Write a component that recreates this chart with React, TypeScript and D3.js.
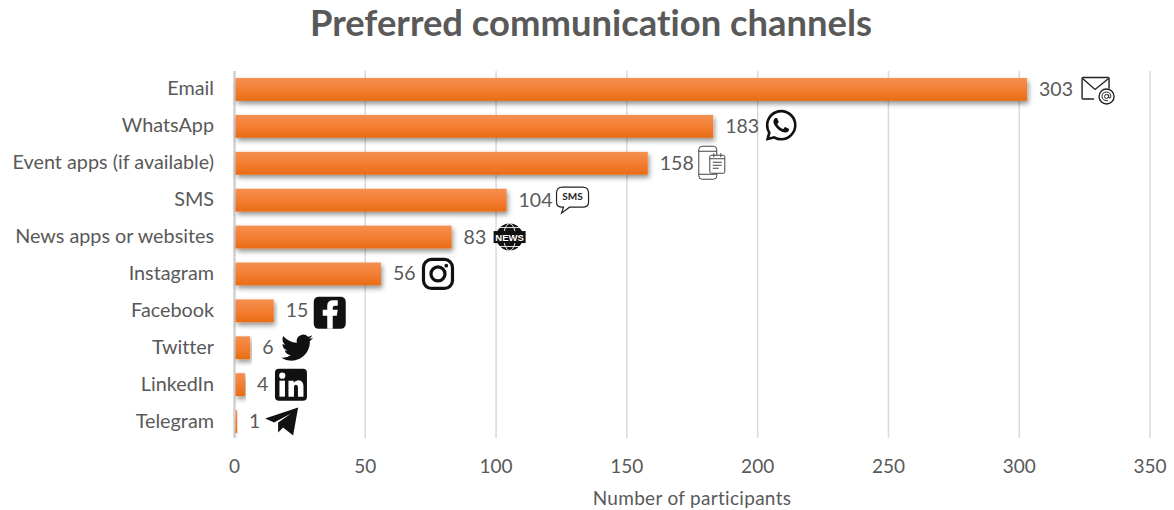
import React from "react";
import * as d3 from "d3";

const categories = ["Email", "WhatsApp", "Event apps (if available)", "SMS", "News apps or websites", "Instagram", "Facebook", "Twitter", "LinkedIn", "Telegram"];
const participants = [303, 183, 158, 104, 83, 56, 15, 6, 4, 1];
const xTicks = [0, 50, 100, 150, 200, 250, 300, 350];
const chartTitle = "Preferred communication channels";
const xAxisTitle = "Number of participants";

const WIDTH = 1174;
const HEIGHT = 510;
const TEXT = "#595959";
const FONT = "Lato, 'Open Sans', sans-serif";

const x = d3.scaleLinear().domain([0, 350]).range([234.5, 1150]);
const y = d3.scaleBand<string>().domain(categories).range([71, 440]).paddingInner(0.38).paddingOuter(0.19);

const TWITTER = "M23.953 4.57a10 10 0 01-2.825.775 4.958 4.958 0 002.163-2.723c-.951.555-2.005.959-3.127 1.184a4.92 4.92 0 00-8.384 4.482C7.69 8.095 4.067 6.13 1.64 3.162a4.822 4.822 0 00-.666 2.475c0 1.71.87 3.213 2.188 4.096a4.904 4.904 0 01-2.228-.616v.06a4.923 4.923 0 003.946 4.827 4.996 4.996 0 01-2.212.085 4.936 4.936 0 004.604 3.417 9.867 9.867 0 01-6.102 2.105c-.39 0-.779-.023-1.17-.067a13.995 13.995 0 007.557 2.209c9.053 0 13.998-7.496 13.998-13.985 0-.21 0-.42-.015-.63A9.935 9.935 0 0024 4.59z";
const WHATSAPP = "M17.472 14.382c-.297-.149-1.758-.867-2.03-.967-.273-.099-.471-.148-.67.15-.197.297-.767.966-.94 1.164-.173.199-.347.223-.644.075-.297-.15-1.255-.463-2.39-1.475-.883-.788-1.48-1.761-1.653-2.059-.173-.297-.018-.458.13-.606.134-.133.298-.347.446-.52.149-.174.198-.298.298-.497.099-.198.05-.371-.025-.52-.075-.149-.669-1.612-.916-2.207-.242-.579-.487-.5-.669-.51-.173-.008-.371-.01-.57-.01-.198 0-.52.074-.792.372-.272.297-1.04 1.016-1.04 2.479 0 1.462 1.065 2.875 1.213 3.074.149.198 2.096 3.2 5.077 4.487.709.306 1.262.489 1.694.625.712.227 1.36.195 1.871.118.571-.085 1.758-.719 2.006-1.413.248-.694.248-1.289.173-1.413-.074-.124-.272-.198-.57-.347m-5.421 7.403h-.004a9.87 9.87 0 01-5.031-1.378l-.361-.214-3.741.982.998-3.648-.235-.374a9.86 9.86 0 01-1.51-5.26c.001-5.45 4.436-9.884 9.888-9.884 2.64 0 5.122 1.03 6.988 2.898a9.825 9.825 0 012.893 6.994c-.003 5.45-4.437 9.884-9.885 9.884m8.413-18.297A11.815 11.815 0 0012.05 0C5.495 0 .16 5.335.157 11.892c0 2.096.547 4.142 1.588 5.945L.057 24l6.305-1.654a11.882 11.882 0 005.683 1.448h.005c6.554 0 11.89-5.335 11.893-11.893a11.821 11.821 0 00-3.48-8.413z";

// Channel glyphs, each drawn around its own centre.
const EmailIcon = () => (
  <g fill="none" stroke="#222" strokeWidth={1.4}>
    <path d="M-4 9.5 H-15 Q-16 9.5 -16 8.5 V-11 Q-16 -12 -15 -12 H10 Q11 -12 11 -11 V-1" />
    <path d="M-15.5 -11 L-3 0 L10.5 -11" />
    <circle cx={8.5} cy={7} r={7.5} fill="#fff" />
    <circle cx={8.5} cy={7} r={2} strokeWidth={1} />
    <path d="M10.6 5 V8 Q12.3 9.8 12.8 7 Q12.6 2.6 8.5 2.6 Q4 2.6 4 7 Q4 11.4 9.8 11.2" strokeWidth={1} />
  </g>
);

const WhatsAppIcon = () => (
  <path d={WHATSAPP} fill="#111" transform="translate(-15.5,-15.5) scale(1.29)" />
);

const EventIcon = () => (
  <g fill="none" stroke="#444" strokeWidth={1}>
    <rect x={-13} y={-17} width={18} height={33} rx={3.5} />
    <path d="M-13 -12 H5 M-13 11 H5" />
    <rect x={-2} y={-8} width={15} height={18} rx={1.5} fill="#fff" />
    <path d="M-2 -4.5 H13 M2 -10 V-6 M9 -10 V-6" />
    <path d="M1 -1 H10 M1 2 H10 M1 5 H7" strokeWidth={1.2} />
  </g>
);

const SmsIcon = () => (
  <g>
    <path d="M-10 -14 H10 Q16 -14 16 -8 V1 Q16 6 10 6 H-3 L-11 12 L-9 6 H-10 Q-16 6 -16 1 V-8 Q-16 -14 -10 -14 Z" fill="#fff" stroke="#222" strokeWidth={1.2} />
    <text x={0} y={-1} textAnchor="middle" fontFamily="Lato, sans-serif" fontWeight={700} fontSize={10} fill="#222">SMS</text>
  </g>
);

const NewsIcon = () => (
  <g>
    <circle r={13.5} fill="#111" />
    <g fill="none" stroke="#fff" strokeWidth={0.9}>
      <ellipse rx={6} ry={13.5} />
      <path d="M-14 -9.5 H14 M-14 9.5 H14" />
    </g>
    <rect x={-16} y={-6} width={32} height={12} fill="#111" />
    <text x={0} y={3.6} textAnchor="middle" fontFamily="'Liberation Sans', sans-serif" fontWeight={700} fontSize={9.5} fill="#fff">NEWS</text>
  </g>
);

const InstagramIcon = () => (
  <g fill="none" stroke="#111" strokeWidth={3.2}>
    <rect x={-14.5} y={-14.5} width={29} height={29} rx={8} />
    <circle r={7} />
    <circle cx={8.3} cy={-8.3} r={1.9} fill="#111" stroke="none" />
  </g>
);

const FacebookIcon = () => (
  <g>
    <rect x={-16} y={-16} width={32} height={32} rx={5} fill="#111" />
    <path d="M-2.5 16 V3 H-7 V-3 H-2.5 V-7 Q-2.5 -12.5 3.5 -12.5 H8 V-7 H5 Q3 -7 3 -5 V-3 H8 L7 3 H3 V16 Z" fill="#fff" />
  </g>
);

const TwitterIcon = () => (
  <path d={TWITTER} fill="#111" transform="translate(-16,-16) scale(1.33)" />
);

const LinkedInIcon = () => (
  <g>
    <rect x={-16} y={-16} width={32} height={32} rx={4} fill="#111" />
    <rect x={-11.5} y={-4} width={5.5} height={16} fill="#fff" />
    <circle cx={-8.7} cy={-9} r={3.1} fill="#fff" />
    <path d="M-2.5 -4 H2.7 V-1.8 Q4.5 -4.5 7.5 -4.5 Q12.5 -4.5 12.5 2 V12 H7 V3 Q7 0 4.8 0 Q3 0 3 3 V12 H-2.5 Z" fill="#fff" />
  </g>
);

const TelegramIcon = () => (
  <path d="M-17 -3 L16 -14 L11 14 L1 6 L-4 11 L-4 1 L9 -8 L-8 1 Z" fill="#111" />
);

// Each glyph sits a fixed distance past its bar's end.
const channelIcons = [
  { Icon: EmailIcon, dx: 71, dy: 0 },
  { Icon: WhatsAppIcon, dx: 68, dy: -1 },
  { Icon: EventIcon, dx: 64, dy: 0 },
  { Icon: SmsIcon, dx: 66, dy: 1 },
  { Icon: NewsIcon, dx: 58, dy: 0 },
  { Icon: InstagramIcon, dx: 57, dy: 0 },
  { Icon: FacebookIcon, dx: 56, dy: 2 },
  { Icon: TwitterIcon, dx: 47, dy: 0 },
  { Icon: LinkedInIcon, dx: 46, dy: 0 },
  { Icon: TelegramIcon, dx: 45, dy: 0 },
];

export default function App() {
  const bandH = y.bandwidth();
  return (
    <svg width={WIDTH} height={HEIGHT} style={{ position: "absolute", left: 0, top: 0, background: "#fff", fontVariantLigatures: "none" }} fontFamily={FONT}>
      <defs>
        <linearGradient id="barFill" x1="0" y1="0" x2="0" y2="1">
          <stop offset="0" stopColor="#f59050" />
          <stop offset="0.55" stopColor="#f37c30" />
          <stop offset="1" stopColor="#e96c14" />
        </linearGradient>
        <filter id="barShadow" x="-5%" y="-20%" width="115%" height="170%">
          <feDropShadow dx={1.5} dy={3} stdDeviation={2.4} floodColor="#000" floodOpacity={0.42} />
        </filter>
      </defs>

      <text x={591} y={36} textAnchor="middle" fontSize={36.4} fontWeight={700} fill={TEXT}>{chartTitle}</text>

      {xTicks.map((t) => (
        <g key={t}>
          <line x1={x(t)} x2={x(t)} y1={71} y2={438} stroke={t === 0 ? "#d0d0d0" : "#d9d9d9"} strokeWidth={t === 0 ? 2.5 : 1.5} />
          <text x={x(t)} y={473} textAnchor="middle" fontSize={19} fill={TEXT}>{t}</text>
        </g>
      ))}

      {categories.map((c, i) => {
        const top = y(c) as number;
        const mid = top + bandH / 2;
        const end = x(participants[i]);
        const { Icon, dx, dy } = channelIcons[i];
        return (
          <g key={c}>
            <text x={214} y={mid + 6} textAnchor="end" fontSize={19.8} fill={TEXT}>{c}</text>
            <rect x={x(0) + 1} y={top} width={end - x(0) - 1} height={bandH} fill="url(#barFill)" filter="url(#barShadow)" />
            <text x={end + 12} y={mid + 6.5} fontSize={19.5} fill={TEXT}>{participants[i]}</text>
            <g transform={`translate(${end + dx},${mid + dy})`}>
              <Icon />
            </g>
          </g>
        );
      })}

      <text x={692} y={505} textAnchor="middle" fontSize={19} letterSpacing={0.3} fill={TEXT}>{xAxisTitle}</text>
    </svg>
  );
}
